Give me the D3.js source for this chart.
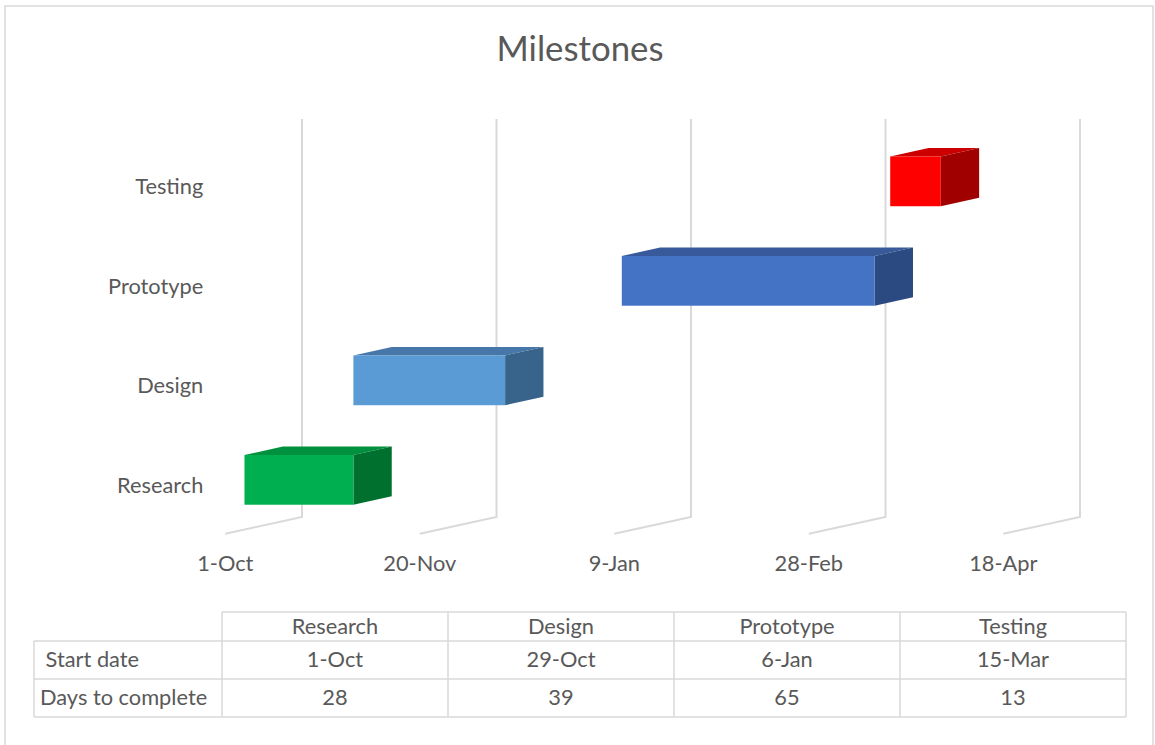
<!DOCTYPE html>
<html>
<head>
<meta charset="utf-8">
<script src="https://cdn.jsdelivr.net/npm/d3@7"></script>
<style>
  html, body { margin: 0; padding: 0; background: #fff; }
  svg { display: block; }
  text { font-family: Lato, "Open Sans", sans-serif; fill: #595959; }
</style>
</head>
<body>
<svg id="chart" width="1155" height="745"></svg>
<script>
// ---- data ----
const categories = ["Research", "Design", "Prototype", "Testing"];
const startDates = ["2019-10-01", "2019-10-29", "2020-01-06", "2020-03-15"];
const daysToComplete = [28, 39, 65, 13];
const tickDates = ["2019-10-01", "2019-11-20", "2020-01-09", "2020-02-28", "2020-04-18"];
const rowLabels = [" Start date", "Days to complete"];
const frontColors = ["#00B050", "#5B9BD5", "#4472C4", "#FF0000"];
const topColors   = ["#00913F", "#4677A8", "#38599A", "#CC0000"];
const sideColors  = ["#00702F", "#38648C", "#2C4A82", "#A00000"];

const parse = d3.utcParse("%Y-%m-%d");
const fmt = d3.utcFormat("%-d-%b");
const DAY = 864e5;
const FONT = "21.8px";

const svg = d3.select("#chart");

// chart frame
svg.append("rect")
  .attr("x", 5).attr("y", 6).attr("width", 1148).attr("height", 745)
  .attr("fill", "#fff").attr("stroke", "#d9d9d9").attr("stroke-width", 1.5);

// title
svg.append("text")
  .attr("x", 580).attr("y", 61)
  .attr("text-anchor", "middle")
  .style("font-size", "34.8px")
  .text("Milestones");

// ---- scales (back wall plane) ----
const x = d3.scaleUtc()
  .domain([parse(tickDates[0]), parse(tickDates[tickDates.length - 1])])
  .range([302, 1080]);

const y = d3.scaleBand()
  .domain(categories)
  .range([517, 119])
  .paddingInner(0.5)
  .paddingOuter(0.25);

// oblique depth: d = 0 at back wall, d = 1 at front edge of floor
const DEPTH_DX = -76.7, DEPTH_DY = 16.8;
const proj = (px, py, d) => [px + DEPTH_DX * d, py + DEPTH_DY * d];
const floorY = 517;

// ---- gridlines on back wall + floor lines ----
const grid = svg.append("g").attr("stroke", "#d9d9d9").attr("stroke-width", 2).attr("fill", "none");
tickDates.forEach(t => {
  const xb = x(parse(t));
  const [xf, yf] = proj(xb, floorY, 1);
  grid.append("path").attr("d", `M${xb},${y.range()[1]}L${xb},${floorY}L${xf},${yf}`);
});

// ---- x axis tick labels (front edge of floor) ----
svg.append("g").selectAll("text")
  .data(tickDates)
  .join("text")
  .attr("x", d => proj(x(parse(d)), floorY, 1)[0])
  .attr("y", proj(0, floorY, 1)[1] + 37)
  .attr("text-anchor", "middle")
  .style("font-size", FONT)
  .text(d => fmt(parse(d)));

// ---- category labels (front plane) ----
svg.append("g").selectAll("text")
  .data(categories)
  .join("text")
  .attr("x", proj(x.range()[0], 0, 1)[0] - 22)
  .attr("y", d => proj(0, y(d) + y.bandwidth() / 2, 1)[1] + 8.5)
  .attr("text-anchor", "end")
  .style("font-size", FONT)
  .text(d => d);

// ---- 3D bars ----
const bars = categories.map((c, i) => {
  const s = parse(startDates[i]);
  const e = new Date(+s + daysToComplete[i] * DAY);
  return { c, i, x0: x(s), x1: x(e), y0: y(c), y1: y(c) + y.bandwidth() };
});
const dFront = 0.75, dBack = 0.25;
const poly = pts => "M" + pts.map(p => p.join(",")).join("L") + "Z";

const gBars = svg.append("g");
bars.forEach(b => {
  const g = gBars.append("g");
  // top face
  g.append("path")
    .attr("d", poly([proj(b.x0, b.y0, dFront), proj(b.x1, b.y0, dFront), proj(b.x1, b.y0, dBack), proj(b.x0, b.y0, dBack)]))
    .attr("fill", topColors[b.i]);
  // right side face
  g.append("path")
    .attr("d", poly([proj(b.x1, b.y0, dFront), proj(b.x1, b.y0, dBack), proj(b.x1, b.y1, dBack), proj(b.x1, b.y1, dFront)]))
    .attr("fill", sideColors[b.i]);
  // front face
  const [fx0, fy0] = proj(b.x0, b.y0, dFront);
  const [fx1, fy1] = proj(b.x1, b.y1, dFront);
  g.append("rect")
    .attr("x", fx0).attr("y", fy0)
    .attr("width", fx1 - fx0).attr("height", fy1 - fy0)
    .attr("fill", frontColors[b.i]);
});

// ---- data table ----
const colX = d3.scaleBand().domain(categories).range([222, 1126]);
const tableLeft = 34;
const rowY = [612, 641, 679, 717];
const table = svg.append("g");
const line = (x1, y1, x2, y2) => table.append("line")
  .attr("x1", x1).attr("y1", y1).attr("x2", x2).attr("y2", y2)
  .attr("stroke", "#d9d9d9").attr("stroke-width", 1.5);

line(222, rowY[0], 1126, rowY[0]);
line(tableLeft, rowY[1], 1126, rowY[1]);
line(tableLeft, rowY[2], 1126, rowY[2]);
line(tableLeft, rowY[3], 1126, rowY[3]);
line(tableLeft, rowY[1], tableLeft, rowY[3]);
categories.forEach(c => line(colX(c), rowY[0], colX(c), rowY[3]));
line(1126, rowY[0], 1126, rowY[3]);

const cellText = (tx, ty, str, anchor) => table.append("text")
  .attr("x", tx).attr("y", ty)
  .attr("text-anchor", anchor)
  .style("font-size", FONT)
  .style("white-space", "pre")
  .text(str);

const baselines = [634, 667, 705];
categories.forEach((c, i) => {
  const cx = colX(c) + colX.bandwidth() / 2;
  cellText(cx, baselines[0], c, "middle");
  cellText(cx, baselines[1], fmt(parse(startDates[i])), "middle");
  cellText(cx, baselines[2], String(daysToComplete[i]), "middle");
});
rowLabels.forEach((r, j) => cellText(40, baselines[j + 1], r, "start"));
</script>
</body>
</html>
